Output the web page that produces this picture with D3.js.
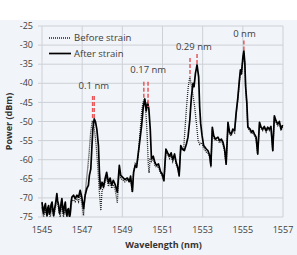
<!DOCTYPE html>
<html>
<head>
<meta charset="utf-8">
<script src="https://cdn.jsdelivr.net/npm/d3@7"></script>
<style>
  body { margin: 0; background: #fff; }
  svg { display: block; font-family: "Open Sans", "Noto Sans", sans-serif; }
</style>
</head>
<body>
<div id="root"></div>
<script>
const xTicks = [1545, 1547, 1549, 1551, 1553, 1555, 1557];
const yTicks = [-75, -70, -65, -60, -55, -50, -45, -40, -35, -30, -25];

// after strain (solid)
const afterWl = [1545.00,1545.04,1545.08,1545.12,1545.17,1545.21,1545.25,1545.29,1545.33,1545.37,1545.41,1545.45,1545.50,1545.54,1545.58,1545.62,1545.66,1545.70,1545.74,1545.78,1545.83,1545.87,1545.91,1545.95,1545.99,1546.03,1546.07,1546.11,1546.16,1546.20,1546.24,1546.28,1546.32,1546.36,1546.40,1546.45,1546.49,1546.57,1546.65,1546.74,1546.82,1546.90,1546.98,1547.07,1547.15,1547.23,1547.31,1547.36,1547.43,1547.48,1547.53,1547.60,1547.66,1547.73,1547.81,1547.86,1547.91,1547.99,1548.06,1548.14,1548.22,1548.31,1548.39,1548.47,1548.55,1548.65,1548.75,1548.85,1548.92,1549.02,1549.13,1549.25,1549.35,1549.41,1549.50,1549.56,1549.64,1549.71,1549.79,1549.88,1549.96,1550.04,1550.12,1550.19,1550.26,1550.32,1550.39,1550.45,1550.54,1550.62,1550.70,1550.80,1550.90,1550.98,1551.07,1551.17,1551.26,1551.35,1551.43,1551.51,1551.60,1551.68,1551.76,1551.83,1551.91,1551.99,1552.09,1552.19,1552.27,1552.36,1552.44,1552.52,1552.57,1552.64,1552.72,1552.80,1552.85,1552.90,1552.97,1553.05,1553.18,1553.26,1553.35,1553.41,1553.48,1553.55,1553.63,1553.76,1553.84,1553.93,1554.01,1554.09,1554.17,1554.26,1554.34,1554.42,1554.50,1554.59,1554.67,1554.75,1554.83,1554.88,1554.93,1555.00,1555.05,1555.10,1555.14,1555.20,1555.25,1555.36,1555.43,1555.50,1555.58,1555.66,1555.74,1555.83,1555.91,1555.99,1556.07,1556.16,1556.24,1556.32,1556.40,1556.49,1556.57,1556.65,1556.74,1556.82,1556.90,1556.98];
const afterDb = [-71.1,-73.0,-74.1,-72.4,-71.5,-73.5,-74.6,-72.6,-72.0,-74.2,-73.7,-71.8,-71.1,-73.2,-74.6,-72.9,-72.0,-70.5,-68.9,-70.8,-72.0,-74.0,-73.3,-71.4,-70.2,-72.5,-74.1,-72.3,-71.1,-73.6,-74.7,-73.1,-72.8,-74.8,-74.4,-71.0,-69.8,-69.3,-70.2,-69.3,-69.8,-68.0,-69.8,-72.8,-69.3,-67.6,-66.7,-64.1,-62.4,-57.2,-52.0,-49.3,-50.0,-52.0,-56.3,-63.3,-67.6,-65.9,-67.2,-65.0,-63.3,-66.0,-64.8,-66.7,-65.4,-66.6,-68.5,-61.5,-64.1,-64.6,-65.2,-64.8,-65.7,-64.3,-68.3,-63.3,-61.5,-62.0,-58.5,-54.6,-51.1,-46.3,-44.1,-47.2,-45.0,-46.7,-52.0,-59.8,-59.1,-60.7,-61.5,-61.1,-63.1,-63.7,-65.4,-57.2,-58.2,-59.1,-58.2,-60.0,-58.5,-60.7,-62.0,-64.1,-56.3,-57.2,-57.6,-55.9,-54.1,-49.6,-43.5,-40.0,-40.9,-37.4,-35.2,-38.3,-46.1,-50.5,-53.7,-56.3,-57.2,-57.6,-58.9,-61.5,-51.5,-53.7,-54.6,-54.1,-55.0,-54.6,-55.4,-57.2,-61.1,-50.2,-52.8,-53.3,-52.0,-52.4,-47.6,-43.9,-39.1,-36.5,-37.5,-33.3,-31.5,-34.8,-40.9,-45.2,-51.4,-52.0,-52.8,-52.4,-53.3,-54.1,-58.5,-50.2,-51.5,-52.0,-51.3,-52.4,-51.5,-52.0,-51.3,-57.6,-48.5,-49.8,-50.7,-50.0,-52.0,-50.9];

// before strain (dotted)
const beforeWl = [1545.00,1545.08,1545.17,1545.25,1545.33,1545.41,1545.50,1545.58,1545.66,1545.74,1545.83,1545.91,1545.99,1546.07,1546.16,1546.24,1546.32,1546.40,1546.49,1546.57,1546.65,1546.74,1546.82,1546.90,1546.98,1547.07,1547.13,1547.20,1547.28,1547.35,1547.42,1547.50,1547.56,1547.63,1547.70,1547.78,1547.85,1547.93,1547.99,1548.06,1548.14,1548.22,1548.31,1548.39,1548.47,1548.55,1548.65,1548.75,1548.85,1548.92,1549.02,1549.13,1549.25,1549.35,1549.41,1549.50,1549.56,1549.64,1549.71,1549.79,1549.88,1549.96,1550.03,1550.09,1550.15,1550.20,1550.24,1550.29,1550.33,1550.38,1550.45,1550.54,1550.62,1550.70,1550.80,1550.90,1550.98,1551.07,1551.17,1551.26,1551.35,1551.43,1551.51,1551.60,1551.68,1551.76,1551.83,1551.91,1551.99,1552.05,1552.12,1552.20,1552.28,1552.36,1552.42,1552.50,1552.60,1552.70,1552.77,1552.85,1552.95,1553.05,1553.18,1553.26,1553.35,1553.41,1553.48,1553.55,1553.63,1553.76,1553.84,1553.93,1554.01,1554.09,1554.17,1554.26,1554.34,1554.42,1554.50,1554.59,1554.67,1554.75,1554.83,1554.88,1554.93,1555.00,1555.05,1555.10,1555.14,1555.20,1555.25,1555.36,1555.43,1555.50,1555.58,1555.66,1555.74,1555.83,1555.91,1555.99,1556.07,1556.16,1556.24,1556.32,1556.40,1556.49,1556.57,1556.65,1556.74,1556.82,1556.90,1556.98];
const beforeDb = [-72.5,-75.0,-73.0,-75.0,-73.5,-75.0,-72.0,-75.0,-73.0,-70.0,-73.0,-75.0,-71.5,-75.0,-72.5,-75.0,-73.5,-75.0,-70.8,-70.5,-71.0,-70.0,-71.0,-69.0,-71.5,-74.6,-70.0,-66.0,-62.0,-58.0,-53.0,-49.8,-50.5,-53.0,-56.4,-62.0,-68.0,-73.3,-68.0,-67.5,-66.0,-64.5,-67.0,-65.5,-67.5,-66.5,-68.0,-71.3,-62.5,-64.8,-65.3,-65.8,-65.2,-66.0,-65.0,-68.5,-63.5,-61.0,-61.5,-59.0,-53.0,-47.5,-45.0,-44.2,-46.0,-50.0,-54.0,-61.0,-63.5,-60.0,-60.5,-59.5,-61.5,-62.0,-61.8,-63.5,-64.3,-65.8,-57.8,-58.7,-59.7,-58.8,-60.5,-59.0,-61.2,-62.5,-64.5,-56.8,-57.6,-57.5,-52.0,-46.0,-41.0,-38.3,-40.0,-42.5,-46.1,-51.0,-54.9,-56.0,-55.5,-57.0,-58.0,-58.2,-59.5,-62.0,-52.0,-54.2,-55.0,-54.8,-55.6,-55.0,-56.0,-57.8,-61.5,-51.0,-53.3,-53.8,-52.6,-53.0,-48.0,-44.3,-39.6,-37.0,-37.8,-33.8,-32.0,-35.2,-41.3,-45.6,-51.8,-52.5,-53.2,-52.8,-53.7,-54.5,-58.8,-50.6,-51.9,-52.4,-51.7,-52.8,-51.9,-52.4,-51.7,-57.8,-48.9,-50.2,-51.1,-50.4,-52.4,-51.3];

// red shift markers: wavelength, top, bottom
const markerWl = [1547.52, 1547.60, 1550.07, 1550.28, 1552.37, 1552.72, 1555.05];
const markerTop = [-43.3, -43.3, -39.6, -39.6, -33.4, -32.3, -28.8];
const markerBottom = [-49.5, -49.5, -44.0, -46.2, -38.3, -35.2, -31.5];

const shiftLabels = ["0.1 nm", "0.17 nm", "0.29 nm", "0 nm"];
const shiftWl = [1547.58, 1550.29, 1552.56, 1555.08];
const shiftDb = [-41.6, -37.4, -31.2, -27.9];

const width = 297, height = 255;
const margin = {top: 26, right: 14, bottom: 38, left: 42};

const svg = d3.select('#root').append('svg')
  .attr('width', width).attr('height', height);

svg.append('rect').attr('x', 0).attr('y', 20).attr('width', width).attr('height', height - 20)
  .attr('fill', '#f1f4f8');

const x = d3.scaleLinear().domain([1545, 1557]).range([margin.left, width - margin.right]);
const y = d3.scaleLinear().domain([-75, -25]).range([height - margin.bottom, margin.top]);

// grid
svg.append('g').selectAll('line').data(xTicks).enter().append('line')
  .attr('x1', d => x(d)).attr('x2', d => x(d))
  .attr('y1', y(-25)).attr('y2', y(-75))
  .attr('stroke', '#cdd1d6').attr('stroke-width', 1);
svg.append('g').selectAll('line').data(yTicks).enter().append('line')
  .attr('x1', x(1545) - 4).attr('x2', x(1557))
  .attr('y1', d => y(d)).attr('y2', d => y(d))
  .attr('stroke', '#cdd1d6').attr('stroke-width', 1);

// tick labels
svg.append('g').selectAll('text').data(yTicks).enter().append('text')
  .attr('x', x(1545) - 9).attr('y', d => y(d)).attr('dy', '0.35em')
  .attr('text-anchor', 'end').attr('font-size', 9).attr('fill', '#404040')
  .text(d => d);
svg.append('g').selectAll('text').data(xTicks).enter().append('text')
  .attr('x', d => x(d)).attr('y', y(-75) + 16)
  .attr('text-anchor', 'middle').attr('font-size', 9).attr('fill', '#404040')
  .text(d => d);

svg.append('text').attr('x', (x(1545) + x(1557)) / 2 + 1).attr('y', 248)
  .attr('text-anchor', 'middle').attr('font-size', 9).attr('font-weight', 'bold')
  .attr('fill', '#333').text('Wavelength (nm)');
svg.append('text').attr('transform', `translate(12,${(y(-25) + y(-75)) / 2}) rotate(-90)`)
  .attr('text-anchor', 'middle').attr('font-size', 9).attr('font-weight', 'bold')
  .attr('fill', '#333').text('Power (dBm)');

const line = d3.line().x(d => x(d[0])).y(d => y(d[1]));
const before = beforeWl.map((w, i) => [w, beforeDb[i]]);
const after = afterWl.map((w, i) => [w, afterDb[i]]);

svg.append('path').datum(before).attr('d', line)
  .attr('fill', 'none').attr('stroke', '#222').attr('stroke-width', 1.3)
  .attr('stroke-dasharray', '1,1');
svg.append('path').datum(after).attr('d', line)
  .attr('fill', 'none').attr('stroke', '#000').attr('stroke-width', 1.7)
  .attr('stroke-linejoin', 'round');

// markers
svg.append('g').selectAll('line').data(markerWl).enter().append('line')
  .attr('x1', d => x(d)).attr('x2', d => x(d))
  .attr('y1', (d, i) => y(markerTop[i])).attr('y2', (d, i) => y(markerBottom[i]))
  .attr('stroke', '#e8585a').attr('stroke-width', 1.5).attr('stroke-dasharray', '4,2');

svg.append('g').selectAll('text').data(shiftLabels).enter().append('text')
  .attr('x', (d, i) => x(shiftWl[i])).attr('y', (d, i) => y(shiftDb[i]))
  .attr('text-anchor', 'middle').attr('font-size', 9.5).attr('fill', '#404040')
  .text(d => d);

// legend
const lg = svg.append('g');
lg.append('line').attr('x1', 49).attr('x2', 71).attr('y1', 38).attr('y2', 38)
  .attr('stroke', '#222').attr('stroke-width', 1.3).attr('stroke-dasharray', '1,1');
lg.append('text').attr('x', 74).attr('y', 38).attr('dy', '0.35em')
  .attr('font-size', 9.5).attr('fill', '#404040').text('Before strain');
lg.append('line').attr('x1', 49).attr('x2', 71).attr('y1', 53.5).attr('y2', 53.5)
  .attr('stroke', '#000').attr('stroke-width', 1.7);
lg.append('text').attr('x', 74).attr('y', 53.5).attr('dy', '0.35em')
  .attr('font-size', 9.5).attr('fill', '#404040').text('After strain');
</script>
</body>
</html>
